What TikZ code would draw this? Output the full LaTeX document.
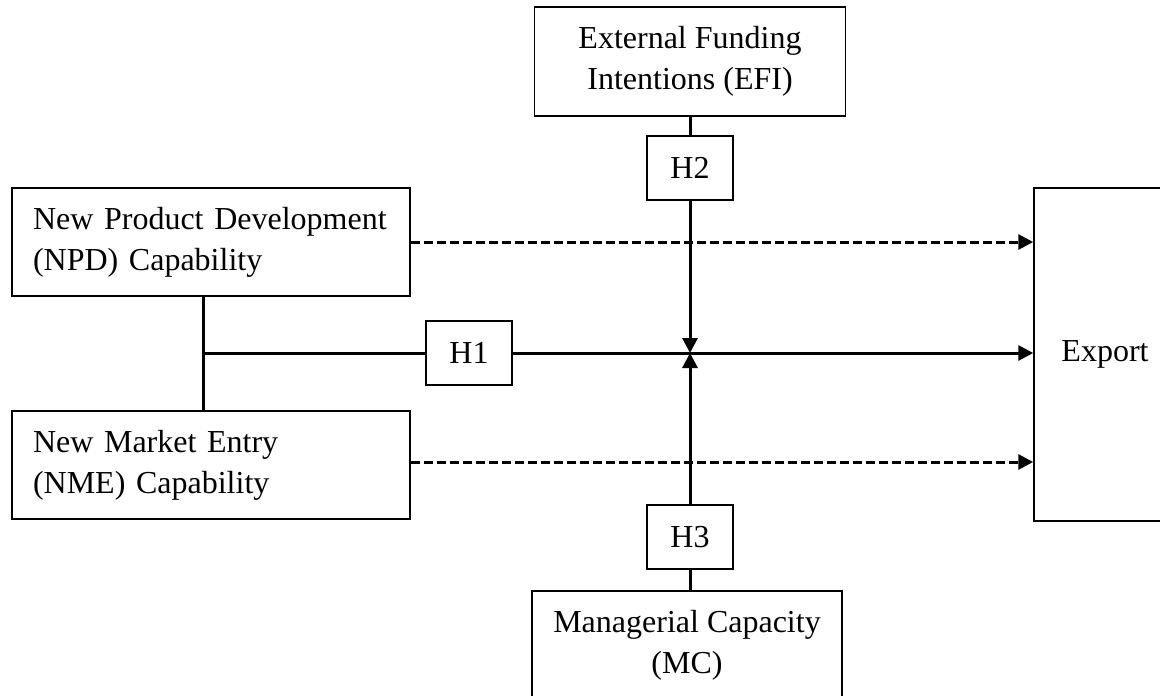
\documentclass[tikz,border=0pt]{standalone}
\usepackage{fontspec}
\setmainfont{Liberation Serif}
\usetikzlibrary{arrows.meta}
\begin{document}
\begin{tikzpicture}[x=1pt,y=-1pt,
  box/.style={draw, line width=1.5pt, rectangle, inner sep=0pt, align=center,
    font=\fontsize{32}{41}\selectfont},
  hbox/.style={box, minimum width=86pt, minimum height=64pt},
  conn/.style={line width=3pt},
  arr/.style={conn, -{Triangle[length=15pt,width=15pt]}},
  darr/.style={arr, dash pattern=on 9pt off 4pt}
]
\useasboundingbox (0,0) rectangle (1160,696);
\fill[white] (0,0) rectangle (1160,696);
% nodes
\node[box, minimum width=311pt, minimum height=109pt] (EFI) at (690,61.5) {External Funding\\Intentions (EFI)};
\node[hbox] (H2) at (690,168) {H2};
\node[box, minimum height=108pt, text width=356pt, inner xsep=21pt, align=left] (NPD) at (211,242) {New Product Development\\(NPD) Capability};
\node[box, minimum height=108pt, text width=356pt, inner xsep=21pt, align=left] (NME) at (211,465) {New Market Entry\\(NME) Capability};
\node[hbox] (H1) at (469,353) {H1};
\node[box, minimum width=142pt, minimum height=333pt] (EXP) at (1105,354.5) {Export};
\node[hbox] (H3) at (690,537) {H3};
\node[box, minimum width=310pt, minimum height=108pt] (MC) at (687,645) {Managerial Capacity\\(MC)};
\coordinate (J) at (203,353);
\coordinate (M) at (690,353);
% connectors
\draw[conn] (NPD.south -| J) -- (NME.north -| J);
\draw[conn] (J) -- (H1.west);
\draw[arr] (H1.east) -- (H1.east -| EXP.west);
\draw[darr] (NPD.east |- 0,242) -- (EXP.west |- 0,242);
\draw[darr] (NME.east |- 0,462) -- (EXP.west |- 0,462);
\draw[conn] (EFI.south -| H2) -- (H2.north);
\draw[arr] (H2.south) -- (M);
\draw[conn] (H3.south) -- (MC.north -| H3);
\draw[arr] (H3.north) -- (M);
\end{tikzpicture}
\end{document}
